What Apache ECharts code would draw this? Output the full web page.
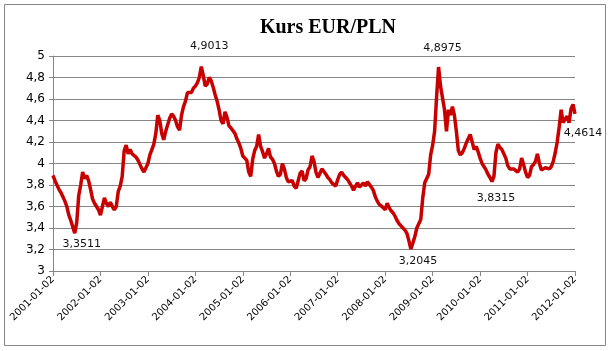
<!DOCTYPE html>
<html>
<head>
<meta charset="utf-8">
<script src="https://cdn.jsdelivr.net/npm/echarts@6/dist/echarts.min.js"></script>
<style>
  html, body { margin: 0; padding: 0; background: #fff; }
  #chart { width: 610px; height: 351px; }
</style>
</head>
<body>
<div id="chart"></div>
<script>
// kurs EUR/PLN, odczyt co pol miesiaca (2. i 16. dzien)
const years = [2001, 2002, 2003, 2004, 2005, 2006, 2007, 2008, 2009, 2010, 2011]
const rates2001 = [3.89, 3.84, 3.80, 3.76, 3.73, 3.69, 3.65, 3.60, 3.52, 3.47, 3.41, 3.3511, 3.45, 3.70, 3.80, 3.92, 3.86, 3.89, 3.84, 3.76, 3.67, 3.63, 3.62, 3.57]
const rates2002 = [3.52, 3.60, 3.68, 3.63, 3.60, 3.64, 3.60, 3.57, 3.60, 3.74, 3.79, 3.88, 4.12, 4.17, 4.09, 4.13, 4.09, 4.10, 4.06, 4.03, 4.02, 3.95, 3.92, 3.96]
const rates2003 = [4.00, 4.08, 4.13, 4.18, 4.28, 4.45, 4.40, 4.28, 4.22, 4.30, 4.36, 4.42, 4.46, 4.44, 4.40, 4.34, 4.31, 4.45, 4.53, 4.58, 4.66, 4.67, 4.66, 4.70]
const rates2004 = [4.72, 4.75, 4.80, 4.9013, 4.82, 4.72, 4.74, 4.80, 4.77, 4.71, 4.64, 4.58, 4.50, 4.40, 4.37, 4.48, 4.43, 4.35, 4.33, 4.34, 4.28, 4.23, 4.19, 4.14]
const rates2005 = [4.07, 4.05, 4.03, 3.92, 3.88, 4.04, 4.12, 4.16, 4.27, 4.16, 4.11, 4.05, 4.09, 4.14, 4.06, 4.04, 4.00, 3.93, 3.88, 3.90, 4.00, 3.95, 3.87, 3.83]
const rates2006 = [3.82, 3.84, 3.79, 3.77, 3.84, 3.91, 3.93, 3.84, 3.86, 3.94, 3.97, 4.07, 4.02, 3.92, 3.87, 3.91, 3.95, 3.96, 3.90, 3.87, 3.85, 3.82, 3.82, 3.79]
const rates2007 = [3.85, 3.90, 3.92, 3.89, 3.87, 3.85, 3.82, 3.79, 3.75, 3.79, 3.82, 3.78, 3.78, 3.82, 3.79, 3.83, 3.84, 3.78, 3.75, 3.69, 3.65, 3.62, 3.61, 3.59]
const rates2008 = [3.57, 3.63, 3.59, 3.56, 3.54, 3.51, 3.47, 3.44, 3.42, 3.40, 3.38, 3.35, 3.28, 3.2045, 3.26, 3.32, 3.40, 3.40, 3.48, 3.68, 3.82, 3.86, 3.90, 4.08]
const rates2009 = [4.17, 4.30, 4.62, 4.8975, 4.72, 4.72, 4.50, 4.30, 4.50, 4.45, 4.53, 4.45, 4.30, 4.12, 4.08, 4.10, 4.14, 4.19, 4.23, 4.27, 4.26, 4.13, 4.16, 4.11]
const rates2010 = [4.05, 4.00, 3.99, 3.94, 3.90, 3.87, 3.8315, 3.88, 4.10, 4.18, 4.15, 4.13, 4.12, 4.05, 3.98, 3.95, 3.96, 3.95, 3.94, 3.92, 3.95, 4.05, 3.99, 3.92]
const rates2011 = [3.87, 3.89, 3.97, 3.99, 4.02, 4.09, 4.00, 3.94, 3.94, 3.96, 3.95, 3.95, 3.97, 4.02, 4.10, 4.20, 4.34, 4.50, 4.38, 4.37, 4.44, 4.38, 4.51, 4.55]
const rates2012 = [4.4614]

// indeksy punktow z podpisem i przesuniecie podpisu [dx, dy]
const labelled = [[11, [7, 11]], [75, [8, -20]], [181, [7, 12]], [195, [4, -19]], [222, [4, 17]], [264, [8, 19]]]

const rates = [].concat(rates2001, rates2002, rates2003, rates2004, rates2005, rates2006,
  rates2007, rates2008, rates2009, rates2010, rates2011, rates2012)

const dates = []
years.forEach(y => {
  for (let m = 1; m <= 12; m++) {
    const mm = String(m).padStart(2, '0')
    dates.push(`${y}-${mm}-02`, `${y}-${mm}-16`)
  }
})
dates.push('2012-01-02')

const fmt = v => String(v).replace('.', ',')
const grey = '#868686'

const chart = echarts.init(document.getElementById('chart'))
chart.setOption({
  animation: false,
  title: {
    text: 'Kurs EUR/PLN',
    left: 323,
    top: 13,
    textAlign: 'center',
    textStyle: { fontFamily: 'Liberation Serif', fontWeight: 'bold', fontSize: 20, color: '#000' }
  },
  graphic: [{
    type: 'rect',
    shape: { x: 4.5, y: 4.5, width: 601, height: 341 },
    style: { fill: 'none', stroke: grey, lineWidth: 1 }
  }],
  grid: { left: 53, right: 35, top: 56, bottom: 80 },
  xAxis: {
    type: 'category',
    data: dates,
    boundaryGap: false,
    axisLine: { lineStyle: { color: grey } },
    axisTick: { interval: 23, length: 5, lineStyle: { color: grey } },
    axisLabel: { interval: 23, rotate: 45, fontFamily: 'DejaVu Sans', fontSize: 10, color: '#000', margin: 7 },
    splitLine: { show: false }
  },
  yAxis: {
    type: 'value',
    min: 3,
    max: 5,
    interval: 0.2,
    axisLine: { show: true, lineStyle: { color: grey } },
    axisTick: { show: true, length: 4, lineStyle: { color: grey } },
    axisLabel: { formatter: fmt, fontFamily: 'DejaVu Sans', fontSize: 12, color: '#000', margin: 8 },
    splitLine: { lineStyle: { color: grey } }
  },
  series: [{
    type: 'line',
    data: rates,
    showSymbol: false,
    lineStyle: { color: '#c80000', width: 3.5 },
    markPoint: {
      symbol: 'circle',
      symbolSize: 1,
      itemStyle: { color: 'rgba(0,0,0,0)' },
      label: {
        show: true,
        position: 'inside',
        fontFamily: 'DejaVu Sans',
        fontSize: 11,
        color: '#111',
        formatter: p => p.value.toFixed(4).replace('.', ',')
      },
      data: labelled.map(([i, off]) => ({ coord: [i, rates[i]], value: rates[i], label: { offset: off } }))
    }
  }]
})
</script>
</body>
</html>
